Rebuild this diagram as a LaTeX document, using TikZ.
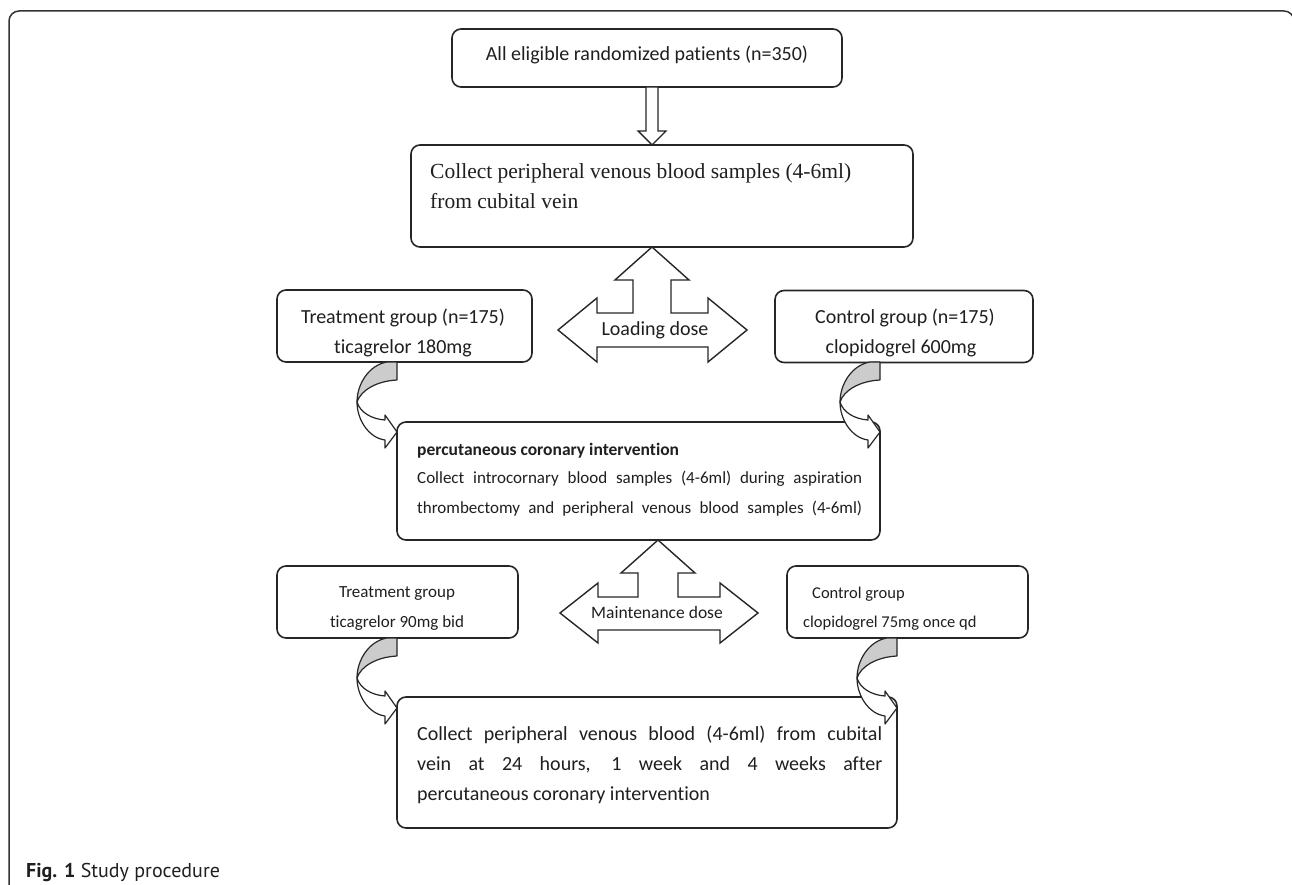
\documentclass[tikz,border=0pt]{standalone}
\usepackage{fontspec}
\setmainfont{Carlito}[Ligatures=NoCommon]
\newfontfamily\serifb{Liberation Serif}
\newfontfamily\capf{PT Sans}
\newcommand\setfs[1]{\fontsize{#1}{#1}\selectfont}
\newcommand\tI{t\kern0pt i}
\tikzset{
  box/.style={draw=black!85, line width=1.6pt, rounded corners=9pt, inner sep=0pt, fill=white},
  barrow/.style={draw=black!85, line width=1.4pt, fill=white, line join=miter},
  carrow/.style={draw=black!85, line width=1.2pt, line join=round},
  txt/.style={inner sep=0pt, text=black!88},
  curvearrow/.pic={
    \path[carrow, fill=gray!40] (0,0) -- (0,18) .. controls (-20,19) and (-36,28) .. (-40,40) .. controls (-40,22) and (-28,3) .. (-10,0) -- cycle;
    \path[carrow, fill=white] (-40,40) .. controls (-40,58) and (-28,76) .. (-12,78) -- (-12,86) -- (0,70) -- (-12,53) -- (-12,58) .. controls (-26,57) and (-37,50) .. (-40,40) -- cycle;
  }
}
\begin{document}
\begin{tikzpicture}[x=1pt,y=-1pt]
\useasboundingbox (0,0) rectangle (1292,885);
\begin{scope}
\clip (0,0) rectangle (1292,885);
\draw[draw=black!80, line width=1.5pt, rounded corners=10pt] (9,11) rectangle (1294,910);
\end{scope}

% boxes
\node[box, minimum width=390, minimum height=58] (all) at (647,58) {};
\node[txt, font=\setfs{20}] (allt) at (647,55) {All eligible randomized pa\tI{}ents (n=350)};

\node[box, minimum width=502, minimum height=102] (col1) at (662,196) {};
\node[txt, anchor=base west, font=\serifb\setfs{21.5}] (col1a) at (430,179) {Collect peripheral venous blood samples (4-6ml)};
\node[txt, anchor=base west, font=\serifb\setfs{21.5}] (col1b) at (430,209) {from cubital vein};

\node[box, minimum width=255, minimum height=72] (tg1) at (404.5,326) {};
\node[txt, anchor=base, font=\setfs{20}] (tg1a) at (403,323) {Treatment group (n=175)};
\node[txt, anchor=base, font=\setfs{20}] (tg1b) at (403,353) {\tI{}cagrelor 180mg};

\node[box, minimum width=258, minimum height=72] (cg1) at (904,326.5) {};
\node[txt, anchor=base, font=\setfs{20}] (cg1a) at (905,323) {Control group (n=175)};
\node[txt, anchor=base, font=\setfs{20}] (cg1b) at (901,353) {clopidogrel 600mg};

\node[box, minimum width=483, minimum height=118] (pci) at (638.5,481) {};
\node[txt, anchor=base west, font=\bfseries\setfs{17.5}] (pcia) at (417,455) {percutaneous coronary interven\tI{}on};
\node[txt, anchor=base west, font=\setfs{17}] (pcib) at (417,483) {\makebox[445pt][s]{Collect introcornary blood samples (4-6ml) during aspira\tI{}on}};
\node[txt, anchor=base west, font=\setfs{17}] (pcic) at (417,513) {\makebox[445pt][s]{thrombectomy and peripheral venous blood samples (4-6ml)}};

\node[box, minimum width=241, minimum height=72] (tg2) at (397.5,602) {};
\node[txt, anchor=base, font=\setfs{17}] (tg2a) at (397,597) {Treatment group};
\node[txt, anchor=base, font=\setfs{17}] (tg2b) at (397,627) {\tI{}cagrelor 90mg bid};

\node[box, minimum width=241, minimum height=72] (cg2) at (907.5,602) {};
\node[txt, anchor=base west, font=\setfs{16.5}] (cg2a) at (812,598) {Control group};
\node[txt, anchor=base west, font=\setfs{16.5}] (cg2b) at (803,627) {clopidogrel 75mg once qd};

\node[box, minimum width=500, minimum height=131] (fin) at (647,762.5) {};
\node[txt, anchor=base west, font=\setfs{20}] (fina) at (417,740) {\makebox[465pt][s]{Collect peripheral venous blood (4-6ml) from cubital}};
\node[txt, anchor=base west, font=\setfs{20}] (finb) at (417,770) {\makebox[465pt][s]{vein at 24 hours, 1 week and 4 weeks after}};
\node[txt, anchor=base west, font=\setfs{20}] (finc) at (417,800) {percutaneous coronary interven\tI{}on};

% down block arrow
\draw[barrow] (646,87) -- (646,131) -- (638,131) -- (652,145) -- (666,131) -- (658,131) -- (658,87) -- cycle;

% loading dose arrow
\draw[barrow] (652,247) -- (689,280) -- (671,280) -- (671,313) -- (708,313) -- (708,298) -- (747,330) -- (708,362) -- (708,347)
  -- (597,347) -- (597,362) -- (558,330) -- (597,298) -- (597,313) -- (633,313) -- (633,280) -- (615,280) -- cycle;
\node[txt, font=\setfs{20}] (ld) at (655,330) {Loading dose};

% maintenance dose arrow
\draw[barrow] (658,540) -- (695,573) -- (678,573) -- (678,597) -- (720,597) -- (720,583) -- (758,613) -- (720,643) -- (720,630)
  -- (598,630) -- (598,643) -- (560,613) -- (598,583) -- (598,597) -- (638,597) -- (638,573) -- (621,573) -- cycle;
\node[txt, font=\setfs{17.5}] (md) at (657,612) {Maintenance dose};

% curved arrows
\begin{scope}[shift={(397,362)}] \pic {curvearrow}; \end{scope}
\begin{scope}[shift={(880,362)}, xscale=-1] \pic {curvearrow}; \end{scope}
\begin{scope}[shift={(397,638)}] \pic {curvearrow}; \end{scope}
\begin{scope}[shift={(897,638)}, xscale=-1] \pic {curvearrow}; \end{scope}

% caption
\node[txt, anchor=base west, font=\capf\setfs{20}] (cap) at (26,877) {\textbf{Fig. 1} Study procedure};
\end{tikzpicture}
\end{document}
